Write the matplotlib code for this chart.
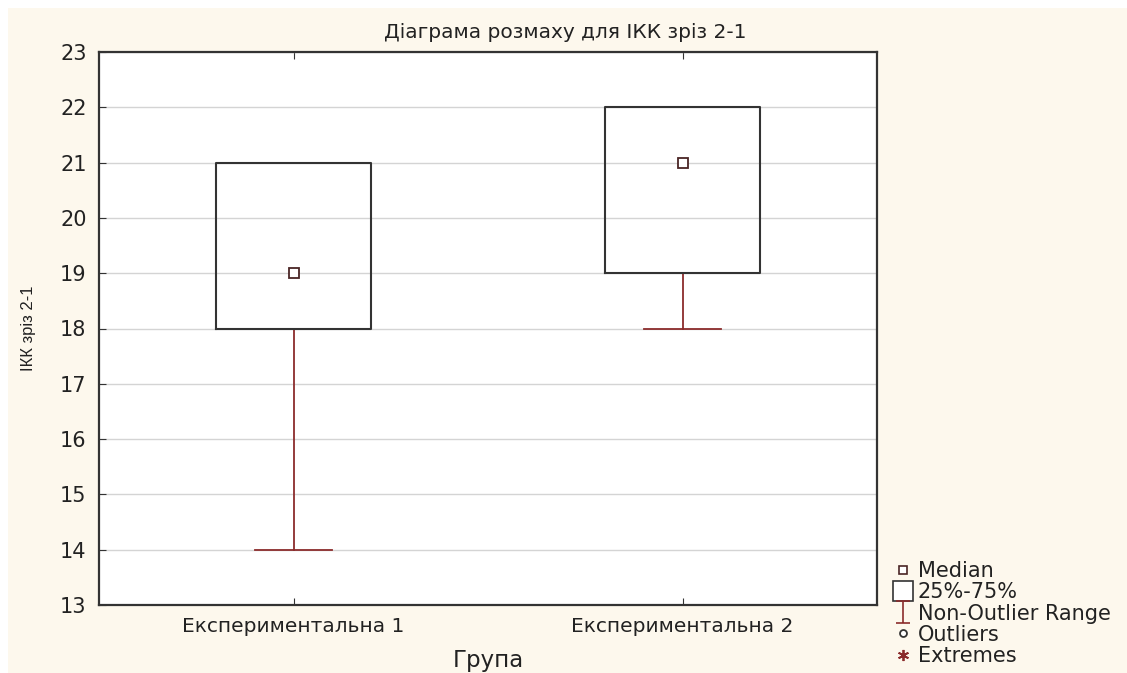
import matplotlib.pyplot as plt
from matplotlib.lines import Line2D
from matplotlib.path import Path
from matplotlib.patches import Rectangle

# box plot summary for each group
groups = ["Експериментальна 1", "Експериментальна 2"]
whisker_low = [14, 18]
q1 = [18, 19]
medians = [19, 21]
q3 = [21, 22]
whisker_high = [21, 22]
y_ticks = [13, 14, 15, 16, 17, 18, 19, 20, 21, 22, 23]

bg = "#fdf8ed"
dark = "#333333"
red = "#8b2c2c"

# wide sans to mimic the horizontally stretched screenshot text
plt.rcParams['font.family'] = ['DejaVu Sans']

fig = plt.figure(figsize=(11.27, 6.73), dpi=100, facecolor="white")
# cream panel with thin white margin at top/left like the screenshot
fig.patches.append(Rectangle((8 / 1127, 0), 1, 1 - 8 / 673, transform=fig.transFigure,
                             facecolor=bg, edgecolor="none", zorder=-10))

ax = fig.add_axes([99 / 1127, 1 - 605 / 673, 778 / 1127, 553 / 673])
ax.set_facecolor("white")

stats = []
for i in range(len(groups)):
    stats.append({"whislo": whisker_low[i], "q1": q1[i], "med": medians[i],
                  "q3": q3[i], "whishi": whisker_high[i], "fliers": []})

ax.bxp(stats, positions=range(len(groups)), widths=0.4, capwidths=0.2,
       showfliers=False,
       boxprops=dict(color=dark, linewidth=1.5, zorder=4),
       whiskerprops=dict(color=red, linewidth=1.3, zorder=3),
       capprops=dict(color=red, linewidth=1.3, zorder=3),
       medianprops=dict(linewidth=0))
ax.plot(range(len(groups)), medians, linestyle="none", marker="s", markersize=6.5,
        markerfacecolor="white", markeredgecolor="#4a2525", markeredgewidth=1.3, zorder=5)

ax.set_xlim(-0.5, 1.5)
ax.set_ylim(13, 23)
ax.set_yticks(y_ticks)
ax.set_xticks(range(len(groups)))
ax.set_xticklabels(groups)
ax.yaxis.grid(True, color="#d4d4d4", linewidth=1)
ax.set_axisbelow(True)
ax.tick_params(axis="both", direction="in", length=5, labelsize=15, colors=dark,
               labelcolor="#222222", pad=9)
ax.tick_params(axis="x", top=True, pad=9, labelsize=14.5)
for s in ax.spines.values():
    s.set_color(dark)
    s.set_linewidth(1.6)

ax.set_xlabel("Група", fontsize=16.5, color="#222222", labelpad=9)
ax.set_ylabel("ІКК зріз 2-1", fontsize=12, color="#222222", labelpad=17,
              family=['Liberation Sans', 'DejaVu Sans'])
fig.text(0.5015, 1 - 33 / 673, "Діаграма розмаху для ІКК зріз 2-1", ha="center", va="center",
         fontsize=14.5, color="#222222")

# legend
ibeam = Path([(-0.6, -1), (0.6, -1), (0, -1), (0, 1), (-0.6, 1), (0.6, 1)],
             [Path.MOVETO, Path.LINETO, Path.MOVETO, Path.LINETO, Path.MOVETO, Path.LINETO])
handles = [
    Line2D([], [], linestyle="none", marker="s", markersize=6, markerfacecolor="white",
           markeredgecolor="#4a2525", markeredgewidth=1.2, label="Median"),
    Line2D([], [], linestyle="none", marker="s", markersize=15, markerfacecolor="white",
           markeredgecolor=dark, markeredgewidth=1.2, label="25%-75%"),
    Line2D([], [], linestyle="none", marker=ibeam, markersize=16, markerfacecolor="none",
           markeredgecolor=red, markeredgewidth=1.2, label="Non-Outlier Range"),
    Line2D([], [], linestyle="none", marker="o", markersize=5, markerfacecolor="white",
           markeredgecolor=dark, markeredgewidth=1.3, label="Outliers"),
    Line2D([], [], linestyle="none", marker=(6, 2, 0), markersize=8, color=red,
           markeredgewidth=1.3, label="Extremes"),
]
fig.legend(handles=handles, loc="upper left", bbox_to_anchor=(895 / 1127, 1 - 561 / 673),
           frameon=False, fontsize=15, handlelength=0.8, handletextpad=0.3,
           labelspacing=0.06, borderaxespad=0, borderpad=0, labelcolor="#222222")

fig.savefig("out.png", dpi=100, facecolor=fig.get_facecolor())
